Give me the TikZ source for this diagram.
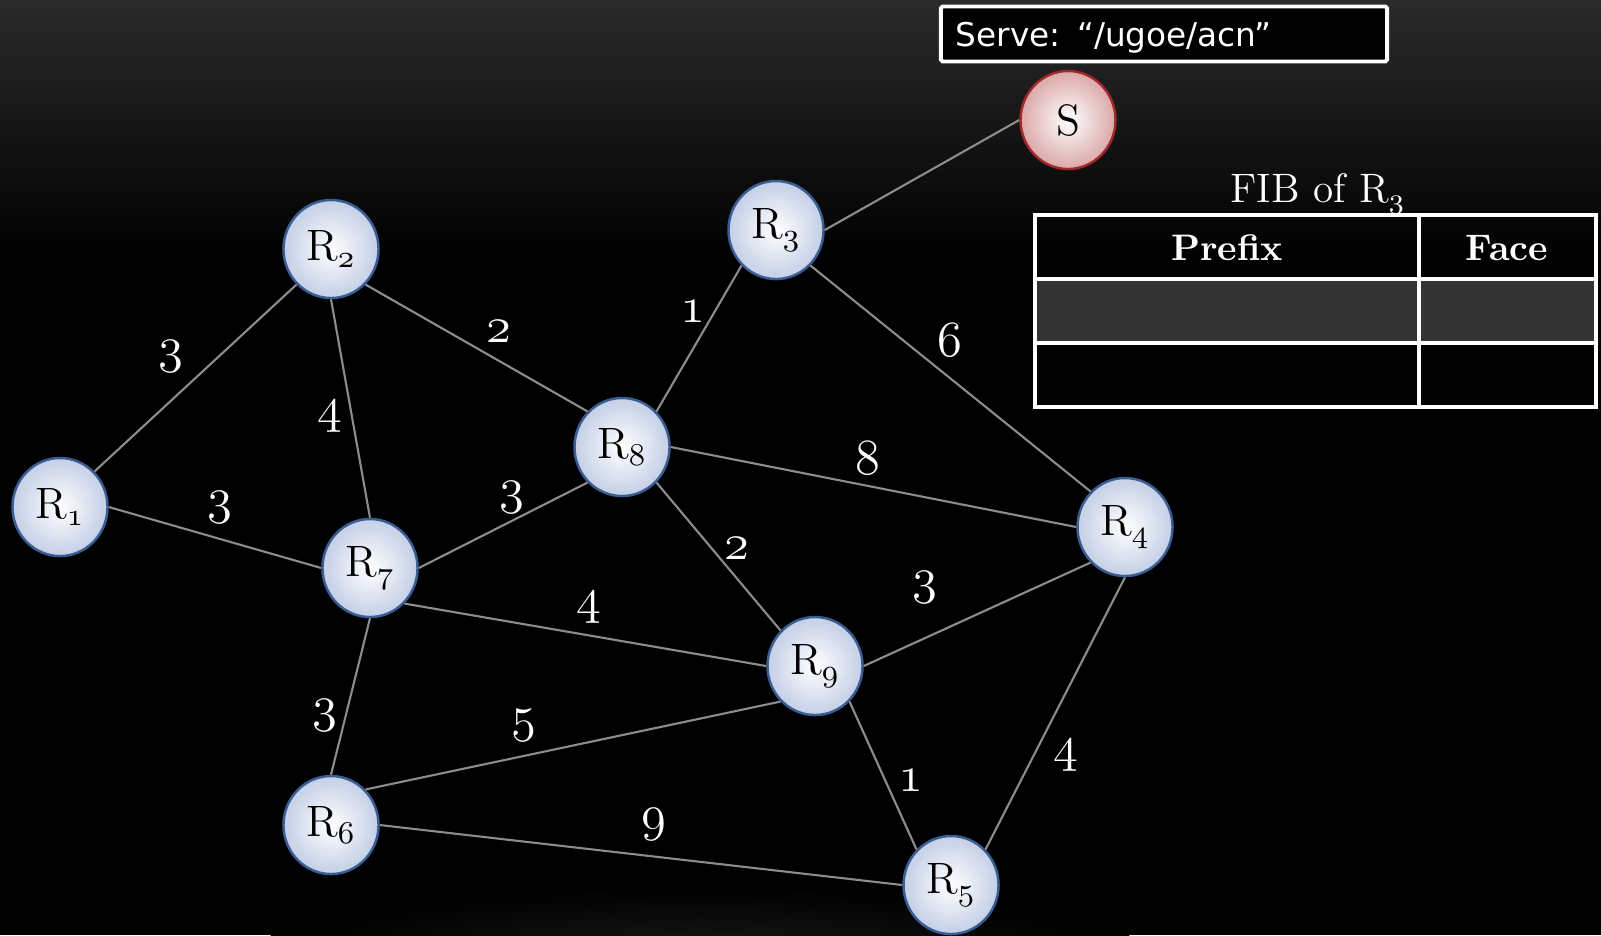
\documentclass[tikz,border=0pt]{standalone}
\usepackage{fontspec}
\newfontfamily\servefont{DejaVu Sans}
\usetikzlibrary{shapes.geometric}
\newcommand{\ostyle}[1]{{\usefont{OML}{cmm}{m}{it}#1}}
\newcommand{\rname}[1]{R\textsubscript{\ostyle{#1}}}
\definecolor{nodeblue}{RGB}{196,207,230}
\definecolor{nodeedge}{RGB}{58,94,148}
\definecolor{srvpink}{RGB}{219,168,168}
\definecolor{srvedge}{RGB}{158,40,40}
\definecolor{linkgray}{RGB}{140,140,140}
\definecolor{rowgray}{RGB}{52,52,52}
\definecolor{bgtop}{RGB}{42,42,42}
\definecolor{glow}{RGB}{22,22,22}
\tikzset{
  router/.style={ellipse, draw=nodeedge, line width=0.7pt, inner sep=0pt,
    minimum width=0.95cm, minimum height=0.98cm, shading=radial,
    inner color=white, outer color=nodeblue, font=\fontsize{12.5}{14}\selectfont},
  server/.style={router, draw=srvedge, outer color=srvpink},
  link/.style={draw=linkgray, line width=0.6pt},
  cost/.style={text=white, inner sep=0pt, font=\fontsize{14.5}{16}\selectfont},
  header/.style={text=white, font=\bfseries\fontsize{10.5}{12}\selectfont}
}
\begin{document}
\begin{tikzpicture}[x=0.01cm, y=-0.01cm]
\useasboundingbox (0,0) rectangle (1601,935);
% background
\fill[black] (0,0) rectangle (1601,935);
\shade[top color=bgtop, bottom color=black] (0,0) rectangle (1601,260);
\begin{scope}
\clip (0,0) rectangle (1601,935);
\shade[inner color=glow, outer color=black] (700,950) ellipse (4.4cm and 0.65cm);
\end{scope}

% routers
\node[router] (r1) at (60,507) {\rname{1}};
\node[router] (r2) at (331,249) {\rname{2}};
\node[router] (r3) at (776,230) {\rname{3}};
\node[router] (r4) at (1125,527) {\rname{4}};
\node[router] (r5) at (951,885) {\rname{5}};
\node[router] (r6) at (331,825) {\rname{6}};
\node[router] (r7) at (370,568) {\rname{7}};
\node[router] (r8) at (622,447) {\rname{8}};
\node[router] (r9) at (815,666) {\rname{9}};
\node[server] (s) at (1068,120) {S};

% links
\draw[link] (r3.east) -- (s.west);
\draw[link] (r1.north east) -- (r2.south west);
\draw[link] (r1.east) -- (r7.west);
\draw[link] (r2.south) -- (r7.north);
\draw[link] (r2.south east) -- (r8.north west);
\draw[link] (r3.south west) -- (r8.north east);
\draw[link] (r3.south east) -- (r4.north west);
\draw[link] (r7.east) -- (r8.south west);
\draw[link] (r8.east) -- (r4.west);
\draw[link] (r8.south east) -- (r9.north west);
\draw[link] (r7.south east) -- (r9.west);
\draw[link] (r9.east) -- (r4.south west);
\draw[link] (r7.south) -- (r6.north);
\draw[link] (r6.north east) -- (r9.south west);
\draw[link] (r9.south east) -- (r5.north west);
\draw[link] (r4.south) -- (r5.north east);
\draw[link] (r6.east) -- (r5.west);

% costs
\node[cost] (c12) at (171,357) {\ostyle{3}};
\node[cost] (c27) at (330,417) {\ostyle{4}};
\node[cost] (c28) at (499,332) {\ostyle{2}};
\node[cost] (c38) at (693,312) {\ostyle{1}};
\node[cost] (c34) at (950,340) {\ostyle{6}};
\node[cost] (c17) at (220,507) {\ostyle{3}};
\node[cost] (c78) at (512,497) {\ostyle{3}};
\node[cost] (c84) at (868,458) {\ostyle{8}};
\node[cost] (c89) at (737,549) {\ostyle{2}};
\node[cost] (c79) at (589,607) {\ostyle{4}};
\node[cost] (c94) at (925,587) {\ostyle{3}};
\node[cost] (c76) at (325,715) {\ostyle{3}};
\node[cost] (c69) at (524,725) {\ostyle{5}};
\node[cost] (c95) at (911,781) {\ostyle{1}};
\node[cost] (c45) at (1066,755) {\ostyle{4}};
\node[cost] (c65) at (654,824) {\ostyle{9}};

% served prefix
\node[draw=white, line width=1.1pt, rounded corners=0.5pt, fill=black, text=white,
  text width=4.16cm, inner xsep=0.15cm, minimum height=0.55cm, align=left, text depth=0pt,
  font=\servefont\fontsize{9.3}{11}\selectfont] (serve) at (1164,34) {Serve: “/ugoe/acn”};

% FIB of R3
\node[text=white, anchor=base, font=\fontsize{11.7}{14}\selectfont] (fibtitle) at (1318,202) {FIB of \rname{3}};
\fill[rowgray] (1035,279) rectangle (1596,343);
\draw[white, line width=1.1pt] (1035,215) rectangle (1596,407);
\draw[white, line width=1.1pt] (1035,279) -- (1596,279) (1035,343) -- (1596,343) (1419,215) -- (1419,407);
\node[header] (prefix) at (1227,248) {Prefix};
\node[header] (face) at (1507,248) {Face};
\end{tikzpicture}
\end{document}
